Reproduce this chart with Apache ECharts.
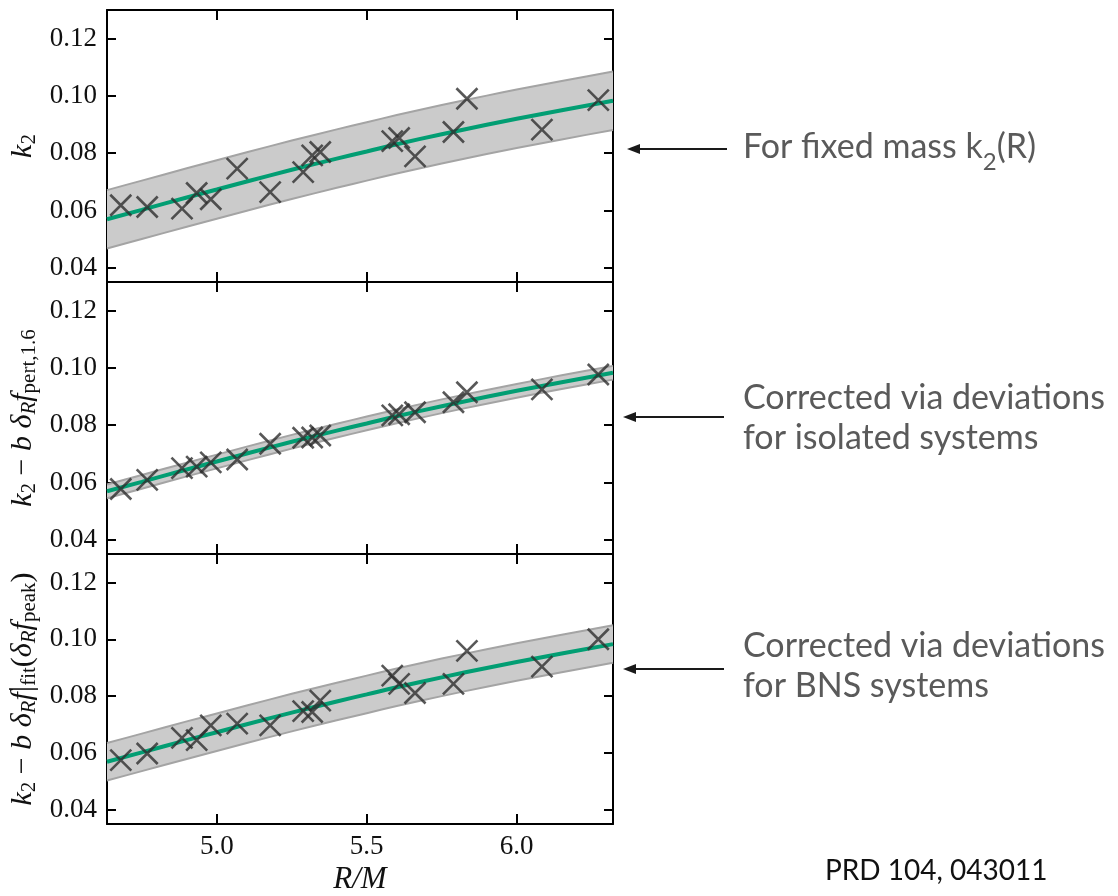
<!DOCTYPE html>
<html>
<head>
<meta charset="utf-8">
<script src="https://cdn.jsdelivr.net/npm/echarts@6/dist/echarts.min.js"></script>
<style>
  html, body { margin: 0; padding: 0; background: #ffffff; }
  #chart { width: 1118px; height: 896px; }
</style>
</head>
<body>
<div id="chart"></div>
<script>
// Radius-to-mass ratio R/M of each simulated configuration
const rOverM = [4.680, 4.768, 4.884, 4.933, 4.980, 5.068, 5.178, 5.288, 5.318, 5.345, 5.585, 5.608, 5.661, 5.789, 5.834, 6.084, 6.272];
// Extracted tidal parameter k2
const k2Raw = [0.0618, 0.0612, 0.0606, 0.0661, 0.0639, 0.0746, 0.0664, 0.0734, 0.0792, 0.0804, 0.0842, 0.0853, 0.0789, 0.0874, 0.0990, 0.0882, 0.0985];
// k2 corrected with perturbative frequency deviations (isolated stars)
const k2CorrIsolated = [0.0577, 0.0609, 0.0650, 0.0655, 0.0670, 0.0680, 0.0735, 0.0756, 0.0757, 0.0764, 0.0834, 0.0838, 0.0845, 0.0880, 0.0915, 0.0925, 0.0977];
// k2 corrected with peak frequency deviations (BNS systems)
const k2CorrBNS = [0.0575, 0.0598, 0.0653, 0.0645, 0.0697, 0.0703, 0.0697, 0.0747, 0.0744, 0.0784, 0.0872, 0.0843, 0.0811, 0.0843, 0.0959, 0.0904, 0.1000];

// Fitted k2(R) relation, sampled along R/M
const fitR  = [4.634, 4.75, 4.9, 5.0, 5.1, 5.25, 5.4, 5.5, 5.6, 5.75, 5.9, 6.0, 6.15, 6.321];
const fitK2 = [0.0569, 0.0602, 0.0645, 0.0673, 0.0701, 0.0742, 0.0781, 0.0806, 0.0831, 0.0866, 0.0899, 0.0920, 0.0950, 0.0983];

// Uncertainty band edges of each panel, sampled at fitR
const bandUpperRaw = [0.0671, 0.0704, 0.0747, 0.0775, 0.0803, 0.0844, 0.0883, 0.0908, 0.0933, 0.0968, 0.1001, 0.1022, 0.1052, 0.1085];
const bandLowerRaw = [0.0467, 0.0500, 0.0543, 0.0571, 0.0599, 0.0640, 0.0679, 0.0704, 0.0729, 0.0764, 0.0797, 0.0818, 0.0848, 0.0881];
const bandUpperIso = [0.0593, 0.0626, 0.0669, 0.0697, 0.0725, 0.0766, 0.0805, 0.0830, 0.0855, 0.0890, 0.0923, 0.0944, 0.0974, 0.1007];
const bandLowerIso = [0.0545, 0.0578, 0.0621, 0.0649, 0.0677, 0.0718, 0.0757, 0.0782, 0.0807, 0.0842, 0.0875, 0.0896, 0.0926, 0.0959];
const bandUpperBNS = [0.0635, 0.0668, 0.0711, 0.0739, 0.0767, 0.0808, 0.0847, 0.0872, 0.0897, 0.0932, 0.0965, 0.0986, 0.1016, 0.1049];
const bandLowerBNS = [0.0503, 0.0536, 0.0579, 0.0607, 0.0635, 0.0676, 0.0715, 0.0740, 0.0765, 0.0800, 0.0833, 0.0854, 0.0884, 0.0917];

// Axis ranges and ticks
const rRange = [4.634, 6.321];
const rTicks = [5.0, 5.5, 6.0];
const kRange = [0.035, 0.130];
const kTicks = [0.04, 0.06, 0.08, 0.10, 0.12];

const SERIF = 'Liberation Serif';
const FRAME = { color: '#000000', width: 2 };
const INK = '#111111';

const panels = [
  { values: k2Raw, upper: bandUpperRaw, lower: bandLowerRaw,
    name: '{it|k}{sub|2}' },
  { values: k2CorrIsolated, upper: bandUpperIso, lower: bandLowerIso,
    name: '{it|k}{sub|2}{n| − }{it|b δ}{isub|R}{it|f}{sub|pert,1.6}' },
  { values: k2CorrBNS, upper: bandUpperBNS, lower: bandLowerBNS,
    name: '{it|k}{sub|2}{n| − }{it|b δ}{isub|R}{it|f}{bar||}{sub|fit}{n|(}{it|δ}{isub|R}{it|f}{sub|peak}{n|)}' }
];

const gridTops = [10, 282, 554];
const grids = gridTops.map(t => ({ left: 107, top: t, width: 506, height: 272, show: false }));

const nameRich = {
  it:   { fontFamily: SERIF, fontStyle: 'italic', fontSize: 30, color: INK, lineHeight: 34 },
  n:    { fontFamily: SERIF, fontSize: 30, color: INK, lineHeight: 34 },
  bar:  { fontFamily: SERIF, fontSize: 32, color: INK, lineHeight: 34 },
  sub:  { fontFamily: SERIF, fontSize: 21, color: INK, lineHeight: 12, verticalAlign: 'bottom' },
  isub: { fontFamily: SERIF, fontStyle: 'italic', fontSize: 21, color: INK, lineHeight: 12, verticalAlign: 'bottom' }
};

const xAxes = [];
const yAxes = [];
[0, 1, 2].forEach(i => {
  const last = i === 2;
  xAxes.push({
    type: 'value', gridIndex: i, position: 'bottom', min: rRange[0], max: rRange[1],
    axisLine: { show: true, onZero: false, lineStyle: FRAME },
    axisTick: { show: true, inside: true, length: 10, lineStyle: FRAME, customValues: rTicks },
    axisLabel: { show: last, customValues: rTicks, formatter: v => v.toFixed(1),
      fontFamily: SERIF, fontSize: 27, color: INK, margin: 9 },
    splitLine: { show: false },
    name: last ? 'R/M' : '', nameLocation: 'middle', nameGap: 40,
    nameTextStyle: { fontFamily: SERIF, fontStyle: 'italic', fontSize: 31, color: INK }
  });
  yAxes.push({
    type: 'value', gridIndex: i, position: 'left', min: kRange[0], max: kRange[1],
    axisLine: { show: true, onZero: false, lineStyle: FRAME },
    axisTick: { show: true, inside: true, length: 9, lineStyle: FRAME, customValues: kTicks },
    axisLabel: { show: true, customValues: kTicks, formatter: v => v.toFixed(2),
      fontFamily: SERIF, fontSize: 27, color: INK, margin: 10 },
    splitLine: { show: false },
    name: panels[i].name, nameLocation: 'middle', nameRotate: 90, nameGap: 67,
    nameTextStyle: { rich: nameRich }
  });
});
[0, 1, 2].forEach(i => {
  xAxes.push({
    type: 'value', gridIndex: i, position: 'top', min: rRange[0], max: rRange[1],
    axisLine: { show: true, onZero: false, lineStyle: FRAME },
    axisTick: { show: true, inside: true, length: 10, lineStyle: FRAME, customValues: rTicks },
    axisLabel: { show: false }, splitLine: { show: false }
  });
  yAxes.push({
    type: 'value', gridIndex: i, position: 'right', min: kRange[0], max: kRange[1],
    axisLine: { show: true, onZero: false, lineStyle: FRAME },
    axisTick: { show: true, inside: true, length: 9, lineStyle: FRAME, customValues: kTicks },
    axisLabel: { show: false }, splitLine: { show: false }
  });
});

const CROSS = 'path://M0,0L10,10M10,0L0,10';
const series = [];
panels.forEach((p, i) => {
  // shaded band between the lower and upper edges
  series.push({
    type: 'custom', xAxisIndex: i, yAxisIndex: i, z: 1, silent: true,
    data: fitR.map((r, j) => [r, p.lower[j]]),
    renderItem: (params, api) => {
      if (params.dataIndex !== 0) return null;
      const up = fitR.map((r, j) => api.coord([r, p.upper[j]]));
      const lo = fitR.map((r, j) => api.coord([r, p.lower[j]]));
      return {
        type: 'group',
        children: [
          { type: 'polygon', shape: { points: up.concat(lo.slice().reverse()) },
            style: { fill: '#cbcbcb' } },
          { type: 'polyline', shape: { points: up, smooth: 0.2 },
            style: { stroke: '#a4a4a4', lineWidth: 2, fill: null } },
          { type: 'polyline', shape: { points: lo, smooth: 0.2 },
            style: { stroke: '#a4a4a4', lineWidth: 2, fill: null } }
        ]
      };
    }
  });
  series.push({
    type: 'line', xAxisIndex: i, yAxisIndex: i, smooth: true,
    symbol: 'none', silent: true, z: 3,
    lineStyle: { color: '#029e73', width: 4 },
    data: fitR.map((r, j) => [r, fitK2[j]])
  });
  series.push({
    type: 'scatter', xAxisIndex: i, yAxisIndex: i, z: 4,
    symbol: CROSS, symbolSize: 21,
    itemStyle: { color: 'none', borderColor: '#2e2e2e', borderWidth: 2.6 },
    data: rOverM.map((r, j) => [r, p.values[j]])
  });
});

// Annotation arrows and captions on the right
const ARROW = '#1a1a1a';
const CAPTION = '#5a5a5a';
function arrow(x1, x2, y) {
  return [
    { type: 'line', shape: { x1: x1 + 10, y1: y, x2: x2, y2: y }, style: { stroke: ARROW, lineWidth: 2 } },
    { type: 'polygon', shape: { points: [[x1, y], [x1 + 13, y - 5], [x1 + 13, y + 5]] }, style: { fill: ARROW } }
  ];
}
const graphics = [].concat(
  arrow(627, 727, 149),
  arrow(623, 724, 417),
  arrow(623, 724, 669),
  [
    { type: 'text', style: {
        x: 743, y: 147, verticalAlign: 'middle',
        text: 'For fixed mass k{s|2}(R)', fontFamily: 'Lato', fontSize: 34, fill: CAPTION,
        rich: { s: { fontFamily: 'Lato', fontSize: 24, fill: CAPTION, padding: [30, 0, 0, 0] } } } },
    { type: 'text', left: 743, top: 378, style: {
        text: 'Corrected via deviations\nfor isolated systems', fontFamily: 'Lato', fontSize: 34,
        lineHeight: 40, fill: CAPTION } },
    { type: 'text', left: 743, top: 626, style: {
        text: 'Corrected via deviations\nfor BNS systems', fontFamily: 'Lato', fontSize: 34,
        lineHeight: 40, fill: CAPTION } },
    { type: 'text', left: 825, top: 857, style: {
        text: 'PRD 104, 043011', fontFamily: 'Lato', fontSize: 28, fill: '#111111' } }
  ]
);

const chart = echarts.init(document.getElementById('chart'), null, { renderer: 'canvas' });
chart.setOption({
  animation: false,
  backgroundColor: '#ffffff',
  grid: grids,
  xAxis: xAxes,
  yAxis: yAxes,
  series: series,
  graphic: graphics
});
</script>
</body>
</html>
